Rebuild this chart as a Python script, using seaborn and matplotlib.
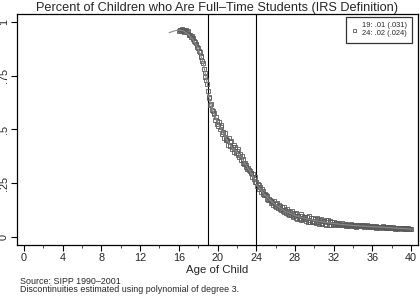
import numpy as np
import pandas as pd
import matplotlib
matplotlib.use("Agg")
import matplotlib.pyplot as plt
from matplotlib.ticker import MultipleLocator
import seaborn as sns

# ---------------- data ----------------
share_16 = [.960, .965, .962, .958, .966, .963, .955, .961, .957, .963, .952, .958]
share_17 = [.945, .938, .940, .930, .935, .920, .925, .912, .905, .900, .895, .882]
share_18 = [.880, .865, .860, .842, .838, .820, .810, .780, .765, .745, .730, .712]
share_19 = [.680, .650, .648, .615, .620, .590, .585, .570, .575, .545, .560, .525]
share_20 = [.540, .515, .535, .500, .510, .520, .480, .490, .462, .485, .455, .450]
share_21 = [.452, .430, .462, .425, .440, .445, .410, .420, .428, .395, .418, .390]
share_22 = [.400, .380, .410, .370, .388, .360, .378, .345, .365, .340, .345, .325]
share_23 = [.335, .318, .322, .312, .305, .298, .300, .280, .295, .270, .278, .255]
share_24 = [.255, .235, .245, .240, .222, .232, .210, .225, .200, .212, .195, .200]
share_25 = [.195, .175, .190, .170, .178, .172, .160, .168, .162, .150, .170, .145]
share_26 = [.155, .140, .160, .135, .148, .130, .145, .125, .138, .120, .142, .118]
share_27 = [.128, .110, .130, .105, .122, .100, .118, .100, .120, .095, .112, .098]
share_28 = [.105, .090, .110, .085, .100, .088, .082, .105, .080, .098, .085, .095]
share_29 = [.082, .095, .075, .092, .072, .098, .080, .070, .090, .076, .072, .088]
share_30 = [.070, .085, .065, .082, .090, .068, .062, .080, .066, .085, .060, .076]
share_31 = [.074, .060, .078, .058, .070, .080, .056, .068, .074, .054, .070, .060]
share_32 = [.062, .068, .058, .065, .060, .055, .066, .060, .062, .057, .064, .058]
share_33 = [.058, .055, .062, .052, .060, .056, .050, .058, .054, .060, .052, .055]
share_34 = [.055, .050, .058, .052, .048, .056, .053, .050, .055, .049, .052, .054]
share_35 = [.050, .054, .047, .052, .049, .055, .046, .050, .053, .047, .051, .048]
share_36 = [.048, .045, .052, .047, .044, .050, .046, .049, .043, .048, .045, .047]
share_37 = [.046, .050, .043, .047, .045, .042, .048, .044, .046, .041, .045, .043]
share_38 = [.043, .040, .046, .042, .039, .044, .041, .043, .038, .042, .040, .044]
share_39 = [.040, .043, .038, .041, .036, .039, .042, .037, .040, .035, .038, .036]
share_40 = [.037]

age_months = np.arange(16 * 12, 40 * 12 + 1)  # age of child in months

# fitted cubic polynomials on each side of the cutoffs
fit1_age = [15.0, 15.5, 16.0, 16.5, 17.0, 17.5, 18.0, 18.5, 19.0]
fit1_val = [0.950, 0.958, 0.963, 0.958, 0.942, 0.915, 0.875, 0.815, 0.700]
fit2_age = [19.0, 19.5, 20.0, 20.5, 21.0, 21.5, 22.0, 22.5, 23.0, 23.5, 24.0]
fit2_val = [0.665, 0.590, 0.535, 0.490, 0.450, 0.415, 0.395, 0.368, 0.330, 0.295, 0.255]
fit3_age = [24, 25, 26, 27, 28, 29, 30, 31, 32, 33, 34, 35, 36, 37, 38, 39, 40]
fit3_val = [0.245, 0.190, 0.150, 0.120, 0.100, 0.087, 0.077, 0.069, 0.063, 0.058,
            0.054, 0.051, 0.048, 0.046, 0.043, 0.040, 0.037]

cutoffs = [19, 24]
legend_text = "19: .01 (.031)\n24: .02 (.024)"
title = "Percent of Children who Are Full\u2013Time Students (IRS Definition)"
xlabel = "Age of Child"
note1 = "Source: SIPP 1990\u20132001"
note2 = "Discontinuities estimated using polynomial of degree 3."
x_ticks = list(range(0, 41, 4))
y_ticks = [0, 0.25, 0.5, 0.75, 1]
y_ticklabels = ["0", ".25", ".5", ".75", "1"]

# ---------------- build frames ----------------
shares = (share_16 + share_17 + share_18 + share_19 + share_20 + share_21 + share_22 +
          share_23 + share_24 + share_25 + share_26 + share_27 + share_28 + share_29 +
          share_30 + share_31 + share_32 + share_33 + share_34 + share_35 + share_36 +
          share_37 + share_38 + share_39 + share_40)
pts = pd.DataFrame({"age": age_months / 12.0, "share": shares})
fits = pd.concat([
    pd.DataFrame({"age": fit1_age, "share": fit1_val, "seg": 1}),
    pd.DataFrame({"age": fit2_age, "share": fit2_val, "seg": 2}),
    pd.DataFrame({"age": fit3_age, "share": fit3_val, "seg": 3}),
])

# ---------------- style ----------------
sns.set_style("ticks")
plt.rcParams["font.family"] = ["Liberation Sans", "DejaVu Sans"]

fig = plt.figure(figsize=(4.2, 2.97), dpi=100)
ax = fig.add_axes([17 / 420, 1 - 245 / 297, (418 - 17) / 420, (245 - 14) / 297])

for c in cutoffs:
    ax.axvline(c, color="black", lw=0.8, zorder=1)

sns.scatterplot(data=pts, x="age", y="share", ax=ax, marker="s", s=8,
                facecolor="none", edgecolor="#5a5a5a", linewidth=0.6, zorder=3,
                label=legend_text)
for seg, d in fits.groupby("seg"):
    sns.lineplot(data=d, x="age", y="share", ax=ax, color="#8a8a8a", lw=0.8,
                 zorder=4, legend=False, estimator=None, sort=True)

ax.set_xlim(-0.72, 40.72)
ax.set_ylim(-0.037, 1.037)
ax.set_xticks(x_ticks)
ax.xaxis.set_minor_locator(MultipleLocator(2))
ax.set_yticks(y_ticks)
ax.set_yticklabels(y_ticklabels, rotation=90, va="center")
ax.tick_params(axis="both", which="major", direction="out", length=4, width=0.8,
               labelsize=7.8, pad=2, color="black")
ax.tick_params(axis="x", which="minor", direction="out", length=2, width=0.6)
for s in ax.spines.values():
    s.set_visible(True)
    s.set_color("black")
    s.set_linewidth(0.9)

ax.set_xlabel(xlabel, fontsize=8.2, labelpad=1)
ax.set_ylabel("")
ax.set_title(title, fontsize=9.2, pad=2)

leg = ax.legend(loc="upper right", bbox_to_anchor=(412 / 420, 1 - 17 / 297),
                bbox_transform=fig.transFigure, borderaxespad=0, frameon=True,
                fancybox=False, fontsize=5.4, handletextpad=0.6, handlelength=0.8,
                borderpad=0.7, markerscale=0.8)
leg.get_frame().set_edgecolor("black")
leg.get_frame().set_linewidth(0.9)

fig.text(20 / 420, 1 - 282 / 297, note1, fontsize=6.4, va="center", ha="left")
fig.text(20 / 420, 1 - 290 / 297, note2, fontsize=6.4, va="center", ha="left")

fig.savefig("out.png", dpi=100, facecolor="white")
